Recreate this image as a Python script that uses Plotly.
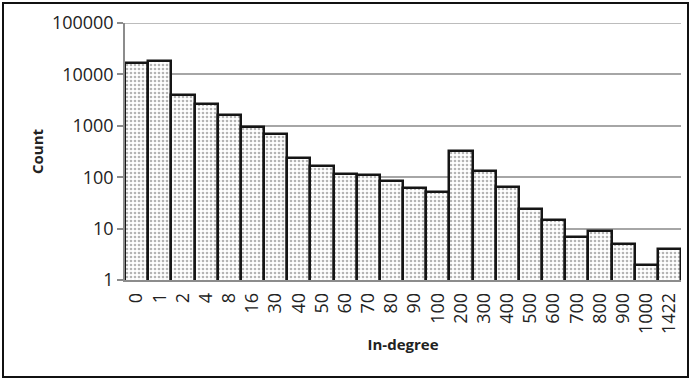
import plotly.graph_objects as go

# In-degree bins and number of nodes in each bin
in_degree = ["0", "1", "2", "4", "8", "16", "30", "40", "50", "60", "70", "80", "90",
             "100", "200", "300", "400", "500", "600", "700", "800", "900", "1000", "1422"]
counts = [17000, 18500, 4000, 2700, 1650, 950, 690, 240, 165, 114, 109, 86, 61,
          51, 323, 134, 64, 24, 15, 7, 9, 5, 2, 4]

y_tickvals = [1, 10, 100, 1000, 10000, 100000]
y_ticktext = ["1", "10", "100", "1000", "10000", "100000"]

W, H = 691, 380
ML, MR, MT, MB = 125, 10, 23, 100
FONT = "Open Sans"
GRID = "#a6a6a6"

fig = go.Figure(
    go.Bar(
        x=in_degree,
        y=counts,
        marker=dict(
            color="white",
            line=dict(color="#151515", width=2.5),
            pattern=dict(shape=".", fgcolor="#6a6a6a", bgcolor="white",
                         size=4, solidity=0.35),
        ),
    )
)

pw, ph = W - ML - MR, H - MT - MB
fx = lambda px: (px - ML) / pw
fy = lambda py: 1 - (py - MT) / ph

fig.update_layout(
    width=W, height=H,
    margin=dict(l=ML, r=MR, t=MT, b=MB),
    paper_bgcolor="white", plot_bgcolor="white",
    bargap=0,
    showlegend=False,
    font=dict(family=FONT, size=18, color="#222"),
    xaxis=dict(
        type="category",
        tickangle=-90,
        showline=True, linecolor="#8c8c8c", linewidth=1.5,
        ticks="", showgrid=False,
        tickfont=dict(size=18),
        ticklabelstandoff=4,
        title=dict(text="<b>In-degree</b>", font=dict(size=15), standoff=6),
    ),
    yaxis=dict(
        type="log",
        range=[0, 5],
        tickvals=y_tickvals, ticktext=y_ticktext,
        showline=True, linecolor="#8c8c8c", linewidth=1.5,
        ticks="outside", ticklen=6, tickcolor="#8c8c8c", tickwidth=1.5,
        showgrid=True, gridcolor=GRID, gridwidth=1.5,
        zeroline=False,
        tickfont=dict(size=18),
        title=dict(text="<b>Count</b>", font=dict(size=15), standoff=5),
    ),
    shapes=[
        # gridline at the top of the value range
        dict(type="line", xref="paper", yref="y", x0=0, x1=1,
             y0=y_tickvals[-1], y1=y_tickvals[-1],
             line=dict(color=GRID, width=1.5), layer="below"),
        # outer frame around the whole figure
        dict(type="rect", xref="paper", yref="paper",
             x0=fx(3), x1=fx(688), y0=fy(377), y1=fy(3),
             line=dict(color="#111", width=2), layer="above"),
    ],
)

fig.write_html("out.html")
